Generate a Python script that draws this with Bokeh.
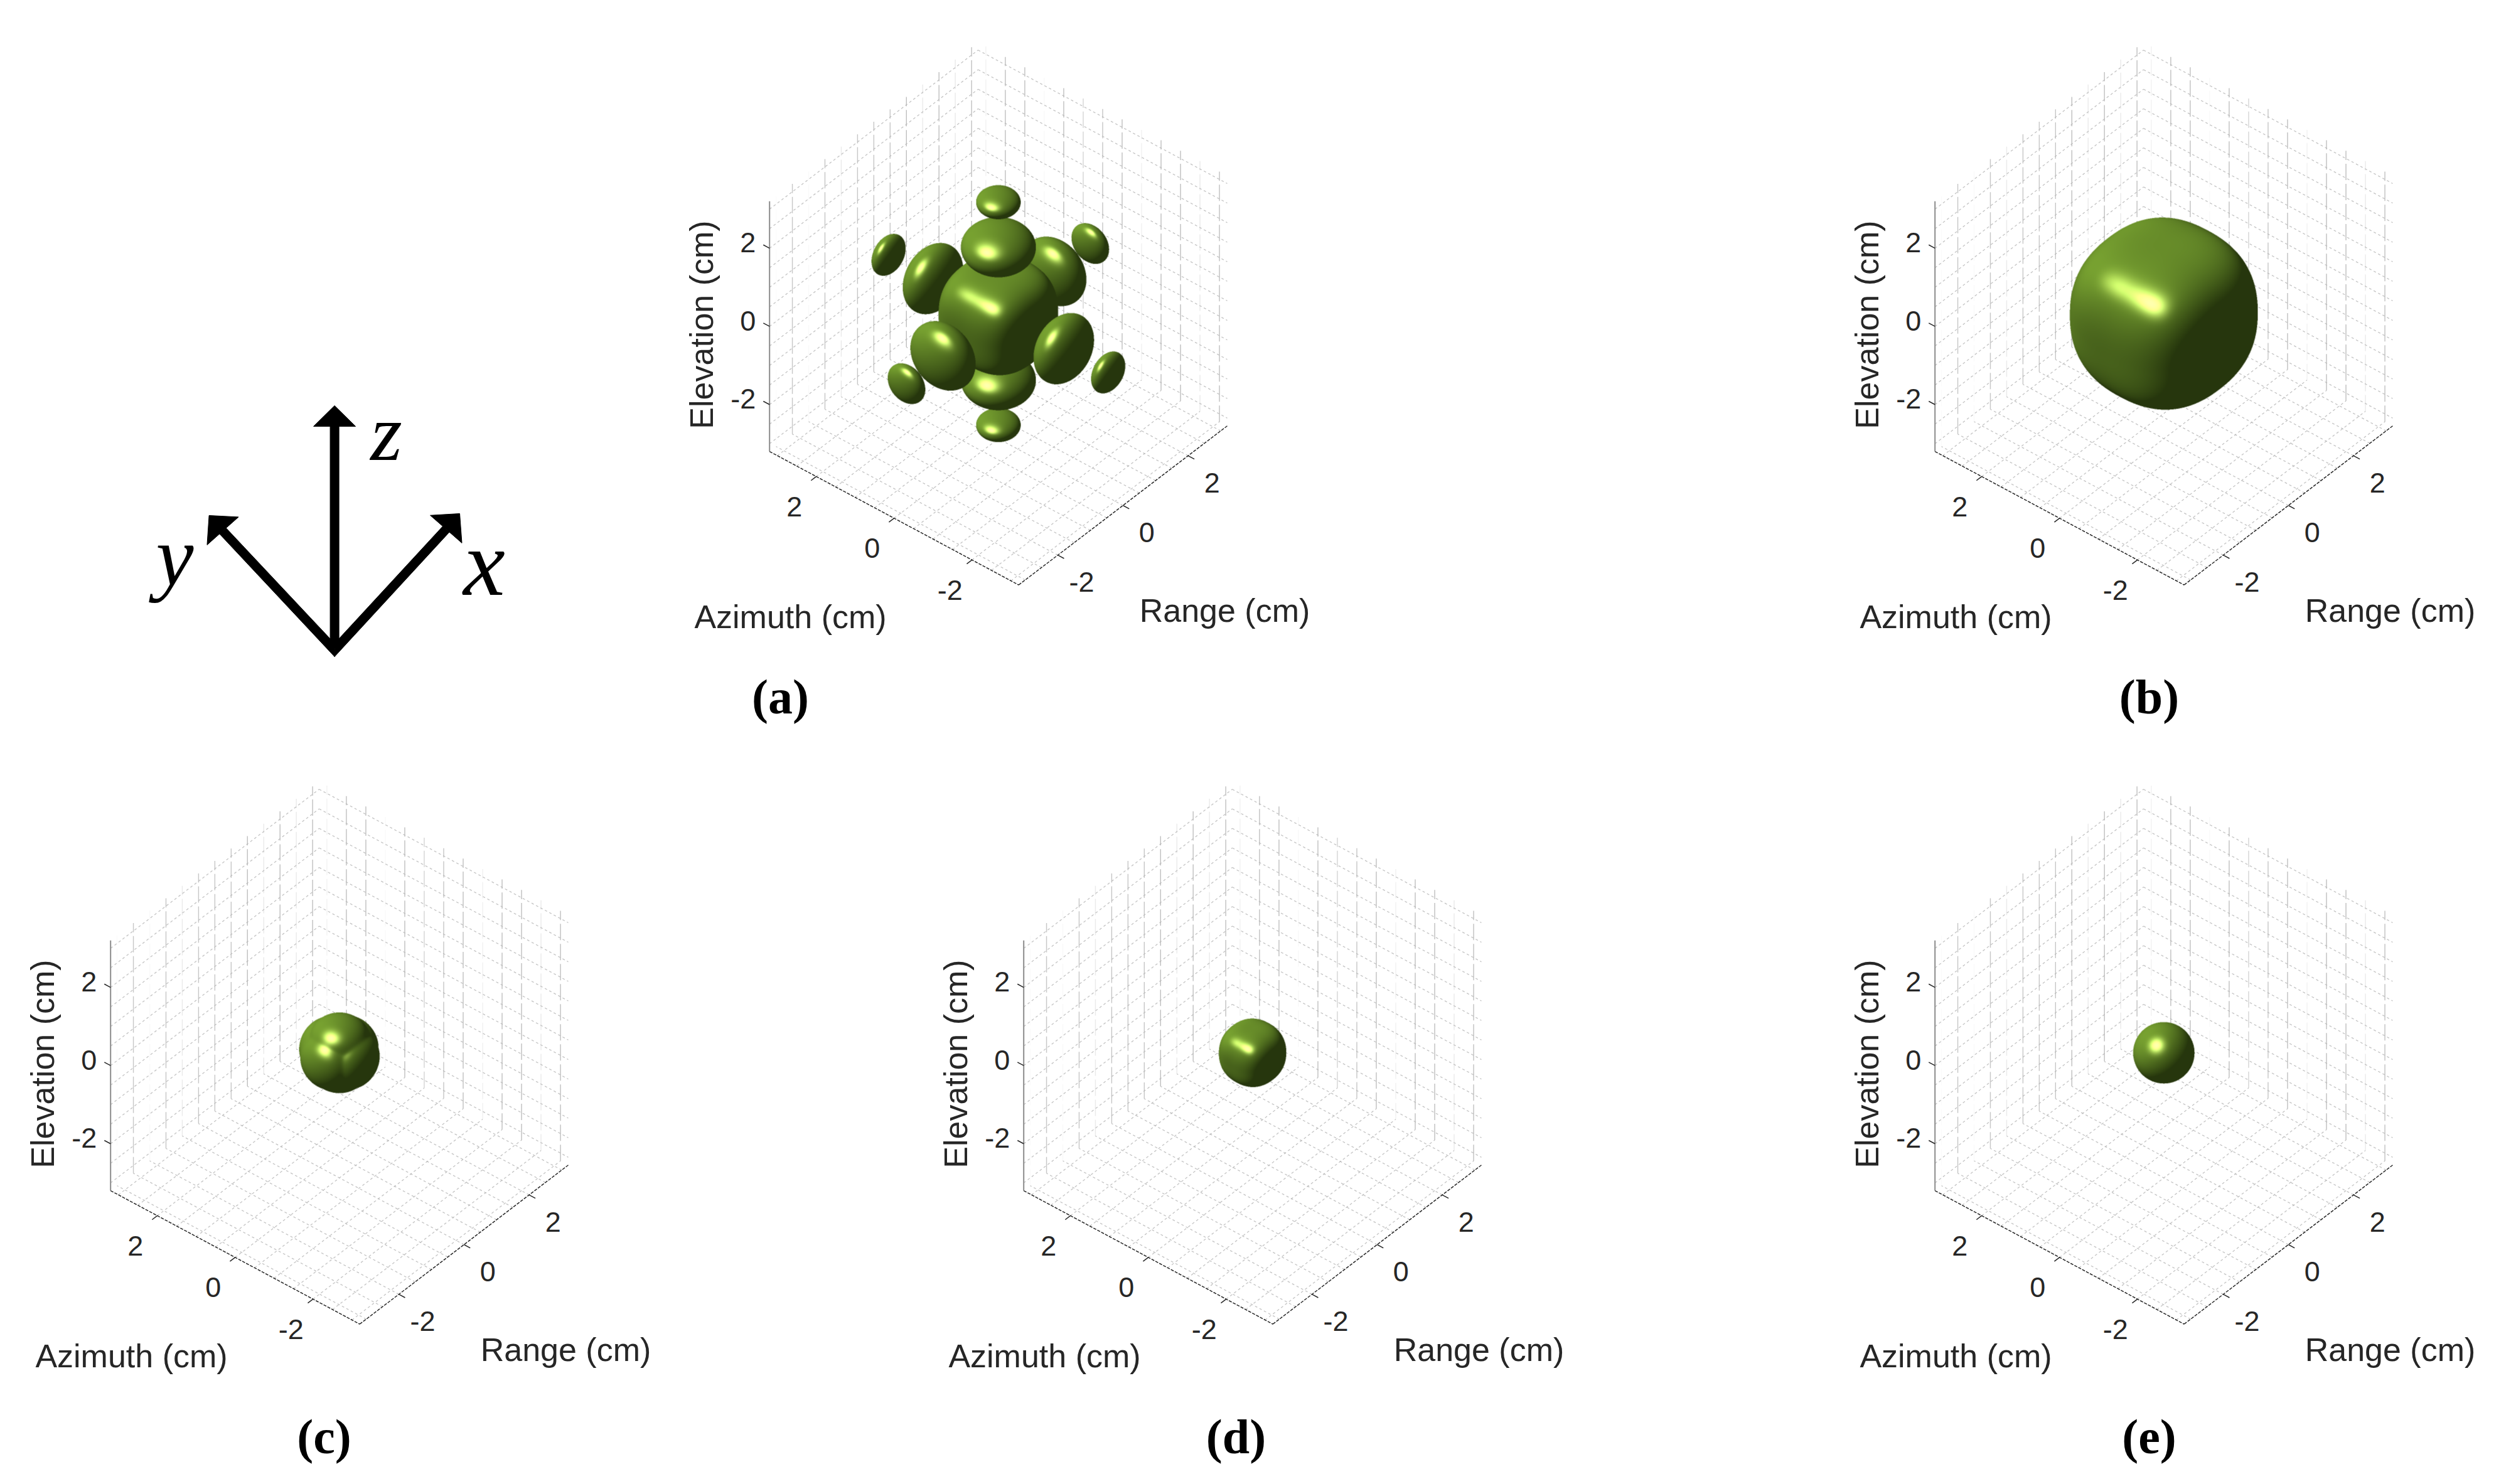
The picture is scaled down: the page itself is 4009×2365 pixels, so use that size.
import numpy as np
from bokeh.plotting import figure
from bokeh.models import Range1d
from bokeh.core.properties import value
from bokeh.embed import file_html
from bokeh.resources import INLINE

# ---------- data (centimetres) ----------
AXIS_LIM = 3.2
TICKS = [-2, 0, 2]
TICK_LABELS = {-2: "-2", 0: "0", 2: "2"}
GRID_POS = [-3, -2.5, -2, -1.5, -1, -0.5, 0, 0.5, 1, 1.5, 2, 2.5, 3]
X_WALL_ALPHA = [0.05, 0.8, 0.08, 0.8, 0.3, 0.8, 0.8, 0.8, 0.9, 0.3, 0.9, 0.3, 0.9]
Y_WALL_ALPHA = [0.9, 0.3, 0.9, 0.9, 0.2, 0.9, 0.8, 0.6, 0.9, 0.1, 0.9, 0.9, 0.2]

XLABEL = "Range (cm)"
YLABEL = "Azimuth (cm)"
ZLABEL = "Elevation (cm)"

# lobes: centre x, y, z, radius x, y, z, exponent
LOBES_A = [
    (0, 0, 0, 1.10, 1.10, 1.10, 2.5),
    (0, 0, 1.70, 0.74, 0.74, 0.47, 2.0),
    (0, 0, -1.70, 0.74, 0.74, 0.47, 2.0),
    (1.70, 0, 0, 0.47, 0.74, 0.74, 2.0),
    (-1.70, 0, 0, 0.47, 0.74, 0.74, 2.0),
    (0, 1.68, 0, 0.74, 0.47, 0.74, 2.0),
    (0, -1.68, 0, 0.74, 0.47, 0.74, 2.0),
    (0, 0, 2.85, 0.44, 0.44, 0.24, 2.0),
    (0, 0, -2.85, 0.44, 0.44, 0.24, 2.0),
    (2.82, 0, 0, 0.24, 0.44, 0.44, 2.0),
    (-2.82, 0, 0, 0.24, 0.44, 0.44, 2.0),
    (0, 2.82, 0, 0.44, 0.24, 0.44, 2.0),
    (0, -2.82, 0, 0.44, 0.24, 0.44, 2.0),
]
LOBES_B = [(0, 0, 0, 1.76, 1.76, 1.76, 2.35)]
LOBES_C = [
    (0, 0, 0, 0.68, 0.68, 0.68, 2.2),
    (0, 0, 0.40, 0.57, 0.57, 0.42, 2.0),
    (0, 0, -0.40, 0.57, 0.57, 0.42, 2.0),
    (0.40, 0, 0, 0.42, 0.57, 0.57, 2.0),
    (-0.40, 0, 0, 0.42, 0.57, 0.57, 2.0),
    (0, 0.40, 0, 0.57, 0.42, 0.57, 2.0),
    (0, -0.40, 0, 0.57, 0.42, 0.57, 2.0),
]
LOBES_D = [(0, 0, 0, 0.64, 0.64, 0.64, 2.25)]
LOBES_E = [(0, 0, 0, 0.605, 0.605, 0.605, 2.0)]

PANEL_NAMES = ["(a)", "(b)", "(c)", "(d)", "(e)"]
PANEL_LOBES = [LOBES_A, LOBES_B, LOBES_C, LOBES_D, LOBES_E]
PANEL_BLEND = [False, False, True, False, False]
PANEL_SHIFT = [(0, 0), (1857, 0), (-1050, 1178), (405, 1178), (1857, 1178)]
PANEL_LABEL_X = [1243, 3424, 516, 1969, 3424]
PANEL_LABEL_Y = [1110, 1110, 2289, 2289, 2289]

TRIAD_BASE = (532.6, 1046)
TRIAD_TIPS = [(532.6, 646), (732, 818), (332.6, 821)]
TRIAD_NAMES = ["z", "x", "y"]
TRIAD_TEXT = [(615, 688, 130), (771, 896, 150), (278, 886, 135)]

# ---------- page and projection ----------
W, H = 4009, 2365
EX = np.array([51.92, -39.6])
EY = np.array([-62.03, -33.23])
EZ = np.array([0.0, -62.3])
ORIGIN = np.array([1590.35, 499.3])
M = np.column_stack([EX, EY, EZ])
PINV = np.linalg.pinv(M)
SCALE = 81.0
R_VEC = np.array([EX[0], EY[0], EZ[0]]) / SCALE
U_VEC = -np.array([EX[1], EY[1], EZ[1]]) / SCALE
D_VEC = np.array([-1.0, -0.837, 1.082])
D_VEC = D_VEC / np.linalg.norm(D_VEC)

LIGHT = np.array([-0.60, 0.60, 0.53])
LIGHT = LIGHT / np.linalg.norm(LIGHT)
HALF = np.array([-0.24, 0.24, 0.94])
HALF = HALF / np.linalg.norm(HALF)
C_AMB = np.array([38, 54, 13]) / 255
C_DIF = np.array([82, 108, 36]) / 255
C_SPE = np.array([205, 215, 135]) / 255
SHINE = 36
BLEND_K = 14.0

p = figure(width=W - 16, height=H - 16, output_backend="svg", toolbar_location=None,
           x_range=Range1d(0, W - 16), y_range=Range1d(16, H),
           x_axis_location=None, y_axis_location=None, min_border=0,
           background_fill_color="white", border_fill_color="white")
p.outline_line_color = None
p.grid.visible = False


def fy(v):
    return H - v


def proj(x, y, z, shift):
    s = ORIGIN + np.array(shift) + EX * x + EY * y + EZ * z
    return s[0], fy(s[1])


def seg(a, b, shift):
    pa, pb = proj(*a, shift), proj(*b, shift)
    return [pa[0], pb[0]], [pa[1], pb[1]]


def text(x, y, s, size, font="Liberation Sans", style="normal", color="#262626",
         align="center", angle=0.0):
    p.text(x=[x], y=[fy(y)], text=[s], text_font=value(font), text_font_size=f"{size}px",
           text_font_style=style, text_color=color, text_align=align,
           text_baseline="middle", angle=angle)


def lobe_field(P, lobe):
    c, r, e = np.array(lobe[:3], float), np.array(lobe[3:6], float), lobe[6]
    q = (P - c) / r
    return (np.abs(q) ** e).sum(-1) - 1


def lobe_grad(P, lobe):
    c, r, e = np.array(lobe[:3], float), np.array(lobe[3:6], float), lobe[6]
    q = (P - c) / r
    # normals use a sharper exponent than the outline: the faces look flatter than the outline
    es = 1 + 1.5 * (e - 1) if e > 2 else e
    return es * np.sign(q) * np.abs(q) ** (es - 1) / r


def group_field(P, group):
    if len(group) == 1:
        return lobe_field(P, group[0])
    fs = np.stack([lobe_field(P, g) for g in group], -1)
    low = fs.min(-1, keepdims=True)
    return low[..., 0] - np.log(np.exp(-BLEND_K * (fs - low)).sum(-1)) / BLEND_K


def group_grad(P, group):
    if len(group) == 1:
        return lobe_grad(P, group[0])
    fs = np.stack([lobe_field(P, g) for g in group], -1)
    low = fs.min(-1, keepdims=True)
    w = np.exp(-BLEND_K * (fs - low))
    w = w / w.sum(-1, keepdims=True)
    out = 0
    for i, g in enumerate(group):
        gr = lobe_grad(P, g)
        out = out + w[..., i, None] * gr / np.maximum(np.linalg.norm(gr, axis=-1, keepdims=True), 1e-9)
    return out


def render(lobes, shift, blend, half=235, ss=2):
    n = 2 * half * ss
    cx0 = int(round(ORIGIN[0] + shift[0])) - half
    cy0 = int(round(ORIGIN[1] + shift[1])) - half
    best = np.full((n, n), -1e9)
    normal = np.zeros((n, n, 3))
    pix = (np.arange(n) + 0.5) / ss
    groups = [list(lobes)] if blend else [[lo] for lo in lobes]
    for group in groups:
        c = np.mean([np.array(g[:3], float) for g in group], axis=0)
        rad = max(np.linalg.norm(np.array(g[:3], float) - c) + np.linalg.norm(g[3:6]) for g in group)
        s = ORIGIN + np.array(shift) + M @ c
        rb = rad * SCALE
        i0 = max(0, int((s[0] - rb - cx0) * ss))
        i1 = min(n, int((s[0] + rb - cx0) * ss) + 1)
        j0 = max(0, int((s[1] - rb - cy0) * ss))
        j1 = min(n, int((s[1] + rb - cy0) * ss) + 1)
        if i1 <= i0 or j1 <= j0:
            continue
        uu, vv = np.meshgrid(pix[i0:i1] + cx0, pix[j0:j1] + cy0)
        duv = np.stack([uu - ORIGIN[0] - shift[0], vv - ORIGIN[1] - shift[1]], -1)
        P0 = duv @ PINV.T
        tc = c @ D_VEC
        lo_t = np.full(uu.shape, np.nan)
        hi_t = np.full(uu.shape, np.nan)
        active = np.ones(uu.shape, bool)
        ts = np.linspace(tc + rad, tc - rad, 70)
        for k in range(1, len(ts)):
            idx = np.where(active)
            if idx[0].size == 0:
                break
            f = group_field(P0[idx] + ts[k] * D_VEC, group)
            hit = f < 0
            hi_t[idx[0][hit], idx[1][hit]] = ts[k - 1]
            lo_t[idx[0][hit], idx[1][hit]] = ts[k]
            active[idx[0][hit], idx[1][hit]] = False
        idx = np.where(~active)
        if idx[0].size == 0:
            continue
        a, b = hi_t[idx], lo_t[idx]
        q0 = P0[idx]
        for _ in range(14):
            m = 0.5 * (a + b)
            f = group_field(q0 + m[..., None] * D_VEC, group)
            a = np.where(f >= 0, m, a)
            b = np.where(f < 0, m, b)
        t = 0.5 * (a + b)
        g = group_grad(q0 + t[..., None] * D_VEC, group)
        g = g / np.maximum(np.linalg.norm(g, axis=-1, keepdims=True), 1e-9)
        jj, ii = idx[0] + j0, idx[1] + i0
        closer = t > best[jj, ii]
        best[jj[closer], ii[closer]] = t[closer]
        normal[jj[closer], ii[closer]] = g[closer]
    mask = best > -1e8
    nv = np.stack([normal @ R_VEC, normal @ U_VEC, normal @ D_VEC], -1)
    dif = np.clip(nv @ LIGHT, 0, None)[..., None]
    spe = np.clip(nv @ HALF, 0, None)[..., None] ** SHINE
    col = C_AMB + C_DIF * dif + C_SPE * spe
    col = np.clip(col, 0, 1) * mask[..., None]
    col = col.reshape(n // ss, ss, n // ss, ss, 3).mean(axis=(1, 3))
    alpha = mask.astype(float).reshape(n // ss, ss, n // ss, ss).mean(axis=(1, 3))
    rgb = np.where(alpha[..., None] > 0, col / np.maximum(alpha[..., None], 1e-6), 1.0)
    rgba = np.dstack([np.clip(rgb, 0, 1) * 255, alpha * 255]).astype(np.uint8)
    rgba = rgba[::-1]
    img = rgba.view(np.uint32).reshape(rgba.shape[:2]).copy()
    return img, cx0, cy0, 2 * half


lim = AXIS_LIM
for name, lobes, blend, shift, label_x, label_y in zip(PANEL_NAMES, PANEL_LOBES, PANEL_BLEND,
                                                       PANEL_SHIFT, PANEL_LABEL_X, PANEL_LABEL_Y):
    lx, ly, la = [], [], []
    for i, g in enumerate(GRID_POS):
        xs, ys = seg((g, lim, -lim), (g, lim, lim), shift)
        lx.append(xs); ly.append(ys); la.append(X_WALL_ALPHA[i])
        xs, ys = seg((lim, g, -lim), (lim, g, lim), shift)
        lx.append(xs); ly.append(ys); la.append(Y_WALL_ALPHA[i])
    p.multi_line(lx, ly, line_color="#b8b8b8", line_alpha=la, line_width=1.4, line_dash="26 6")
    lx, ly = [], []
    for g in GRID_POS:
        for a, b in [((-lim, lim, g), (lim, lim, g)), ((lim, lim, g), (lim, -lim, g))]:
            xs, ys = seg(a, b, shift)
            lx.append(xs); ly.append(ys)
        for a, b in [((g, -lim, -lim), (g, lim, -lim)), ((-lim, g, -lim), (lim, g, -lim))]:
            xs, ys = seg(a, b, shift)
            lx.append(xs); ly.append(ys)
    p.multi_line(lx, ly, line_color="#bababa", line_alpha=0.85, line_width=1.3, line_dash="4 4")

    xs, ys = seg((-lim, lim, -lim), (-lim, lim, lim), shift)
    p.line(xs, ys, line_color="#8c8c8c", line_width=2)
    for a, b in [((-lim, lim, -lim), (-lim, -lim, -lim)), ((-lim, -lim, -lim), (lim, -lim, -lim))]:
        xs, ys = seg(a, b, shift)
        p.line(xs, ys, line_color="#262626", line_width=1.5, line_dash="5 2")

    tick_x, tick_y = [], []
    sx, sy = shift
    for t in TICKS:
        xs, ys = seg((-lim, lim, t), (-lim, lim + 0.16, t), shift)
        tick_x.append(xs); tick_y.append(ys)
        text(xs[0] - 22, H - ys[0] - 9, TICK_LABELS[t], 45, align="right")
        xs, ys = seg((-lim, t, -lim), (-lim - 0.16, t, -lim), shift)
        tick_x.append(xs); tick_y.append(ys)
        text(xs[0] - 35, H - ys[0] + 48, TICK_LABELS[t], 45)
        xs, ys = seg((t, -lim, -lim), (t, -lim - 0.16, -lim), shift)
        tick_x.append(xs); tick_y.append(ys)
        text(xs[0] + 38, H - ys[0] + 43, TICK_LABELS[t], 45)
    p.multi_line(tick_x, tick_y, line_color="#262626", line_width=1.5)

    text(1951 + sx, 972 + sy, XLABEL, 52)
    text(1259 + sx, 982 + sy, YLABEL, 52)
    text(1117 + sx, 517 + sy, ZLABEL, 52, angle=np.pi / 2)

    img, x0, y0, size = render(lobes, shift, blend)
    p.image_rgba(image=[img], x=[x0], y=[fy(y0 + size)], dw=[size], dh=[size])

    text(label_x, label_y, name, 78, font="Liberation Serif", style="bold", color="black")

# coordinate triad
shaft_w, head_l, head_w = 14, 33, 67
bx, by = TRIAD_BASE
a = np.array([bx, by], float)
polys_x, polys_y = [], []


def add_poly(points):
    polys_x.append([q[0] for q in points])
    polys_y.append([fy(q[1]) for q in points])


for (tx, ty) in TRIAD_TIPS:
    d = np.array([tx - bx, ty - by], float)
    d = d / np.linalg.norm(d)
    n = np.array([-d[1], d[0]])
    tip = np.array([tx, ty])
    hb = tip - d * head_l
    add_poly([tip, hb + n * head_w / 2, hb - n * head_w / 2])
    s1, s2 = hb + n * shaft_w / 2, hb - n * shaft_w / 2
    if abs(d[0]) < 1e-6:
        add_poly([a + n * shaft_w / 2 + np.array([0, -14]), s1, s2,
                  a - n * shaft_w / 2 + np.array([0, -14])])
    else:
        s_out, s_in = (s1, s2) if abs(s1[0] - bx) > abs(s2[0] - bx) else (s2, s1)
        add_poly([a, s_out, s_in, a + np.array([0, -shaft_w * 1.5])])
p.patches(polys_x, polys_y, fill_color="black", line_color="black", line_width=1)
for nm, (tx, ty, ts) in zip(TRIAD_NAMES, TRIAD_TEXT):
    text(tx, ty, nm, ts, font="Liberation Serif", style="italic", color="black")

open("out.html", "w").write(file_html(p, INLINE))
